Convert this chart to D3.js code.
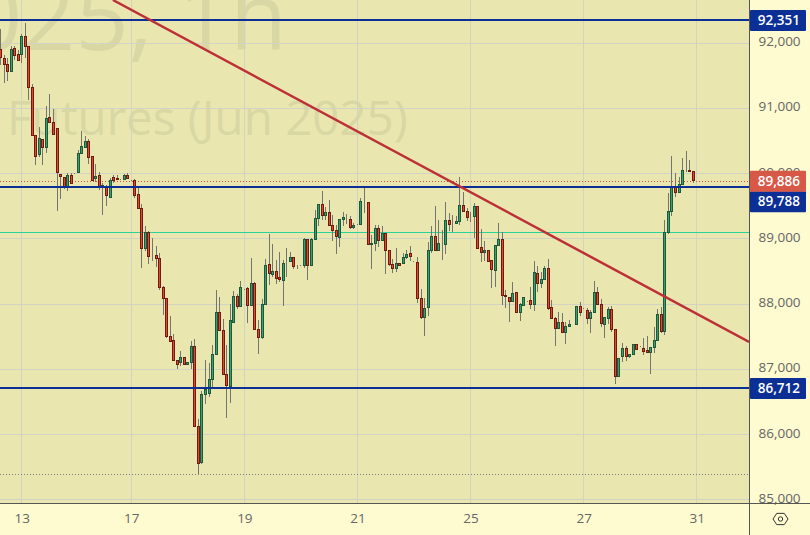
<!DOCTYPE html>
<html><head><meta charset="utf-8">
<script src="https://cdn.jsdelivr.net/npm/d3@7/dist/d3.min.js"></script>
<style>html,body{margin:0;padding:0;background:#fefbd0;overflow:hidden}svg{display:block}</style>
</head><body><svg id="c" width="810" height="535"></svg>
<script>
const opens=[91900,91765,91670,91560,91915,91825,91825,92105,91950,91320,
90575,90285,90525,90395,90860,90785,90690,89985,89940,89795,
89970,89995,90010,90310,90395,90495,90265,89920,89970,89790,
89790,89635,89940,89915,89910,89905,89970,89895,89895,89680,
89465,88855,89100,88745,88745,88700,88255,88085,87505,87445,
87135,87100,87185,87070,87100,87350,86125,85570,86615,86625,
86845,87230,87875,87595,86925,86735,87720,88120,87965,88225,
88240,87980,88315,87610,87485,87995,88600,88450,88500,88410,
88360,88630,88645,88715,88595,88590,88590,88990,88590,88985,
89315,89530,89355,89405,89200,89130,89015,89295,89310,89300,
89170,89220,89215,89560,89555,88915,88925,89160,88970,89085,
88820,88605,88545,88625,88620,88710,88775,88655,88640,88085,
87790,87945,88815,89040,88815,88930,88910,89280,89235,89230,
89260,89510,89420,89345,89345,89495,88865,88795,88820,88660,
88510,88890,88990,88125,88100,88035,88180,87865,87975,88040,
88055,87990,88470,88310,88380,88545,87945,87780,87620,87720,
87560,87660,87690,87690,87965,87930,87905,87775,87865,88180,
87995,87685,87775,87920,87605,86885,87195,87320,87195,87225,
87385,87350,87320,87280,87255,87330,87440,87840,87575,89100,
89420,89795,89705,89830,90040,90050,90025];
const closes=[91780,91670,91560,91900,91805,91730,92105,91940,91315,90580,
90255,90540,90395,90845,90780,90595,90010,89950,89795,89970,
89845,90005,90310,90415,90495,90250,89890,89955,89790,89820,
89660,89895,89890,89910,89910,89970,89920,89890,89665,89460,
88855,89100,88725,88740,88695,88250,88080,87500,87420,87130,
87070,87185,87070,87105,87350,86120,85555,86615,86685,86845,
87230,87875,87590,86925,86750,87750,88120,87965,88255,88225,
87975,88315,87610,87490,87995,88595,88465,88500,88390,88370,
88625,88635,88715,88570,88590,88590,88990,88590,88990,89315,
89530,89355,89405,89200,89125,89030,89300,89320,89305,89175,
89195,89220,89575,89555,88915,88925,89160,88970,89085,88815,
88600,88540,88625,88590,88710,88760,88725,88650,88080,87790,
87935,88825,89040,88815,88920,88930,89280,89215,89235,89270,
89510,89415,89320,89340,89495,88845,88785,88825,88650,88525,
88900,88990,88125,88115,88035,88165,87875,87985,88105,88040,
87990,88485,88310,88380,88545,87935,87775,87620,87720,87560,
87660,87690,87690,87965,87865,87925,87775,87875,88180,87990,
87700,87795,87920,87605,86885,87170,87320,87195,87230,87385,
87300,87350,87270,87255,87335,87445,87840,87575,89100,89420,
89795,89705,89830,90040,90045,90025,89886];
const highs=[92210,91815,91765,91950,91950,91890,92130,92310,91950,91370,
90575,90715,90525,91035,91215,90990,90690,89985,89940,90000,
90010,90010,90360,90650,90575,90525,90265,90145,90020,89860,
89825,89925,89975,89975,89915,89990,90000,89900,89915,89790,
89530,89195,89120,89010,88890,88780,88275,88090,87815,87540,
87140,87280,87185,87105,87435,87465,86235,86665,87140,87095,
87365,88215,88105,87770,87370,88000,88200,88155,88350,88230,
88265,88705,88340,87755,88075,88690,89070,88920,88675,88795,
88675,88855,88790,88715,88600,88595,89005,88990,89005,89440,
89530,89730,89480,89595,89365,89210,89300,89410,89380,89340,
89235,89225,89620,89790,89560,89055,89210,89210,89195,89085,
88825,88690,88855,88625,88775,88827,88890,88660,88715,88225,
88090,88955,89200,89500,89285,89135,89560,89400,89365,89350,
89940,89710,89465,89410,89545,89500,89145,88965,88825,88660,
88900,89240,89105,88215,88105,88335,88180,88010,88105,88045,
88255,88660,88580,88485,88580,88690,88060,87795,87875,87860,
87730,87755,87695,87965,88025,87935,87935,87910,88350,88255,
88075,87795,87950,87970,87605,87170,87400,87355,87230,87385,
87385,87355,87475,87510,87335,87650,87920,87950,89285,89705,
90265,90000,89940,90230,90345,90205,90025];
const lows=[91660,91380,91415,91560,91740,91730,91695,91775,91125,90580,
90130,90255,90130,90310,90780,90595,89430,89610,89755,89735,
89845,89995,90010,90310,90395,90145,89890,89875,89745,89370,
89500,89635,89860,89900,89905,89900,89910,89885,89620,89460,
88555,88815,88615,88660,88570,88215,87830,87480,87420,87130,
87005,87055,87070,87070,87005,86120,85395,85550,86470,86580,
86710,87230,87590,86925,86260,86475,87720,87930,87965,88220,
87715,87980,87610,87240,87470,87995,88290,88420,88305,88340,
87970,88420,88645,88535,88535,88585,88545,88370,88590,88985,
89195,89285,89285,89200,88965,88765,88865,89195,89225,89150,
89145,89215,89215,89400,88915,88540,88810,88870,88970,88465,
88580,88480,88495,88590,88620,88685,88665,88645,88020,87770,
87515,87820,88775,88815,88815,88675,88765,89125,89100,89230,
89210,89415,89275,89255,89010,88845,88645,88665,88645,88245,
88265,88890,87985,87945,87730,88035,87875,87740,87975,88035,
87925,87895,88185,88240,88380,87910,87775,87360,87620,87560,
87385,87660,87685,87690,87815,87920,87690,87560,87865,87990,
87640,87485,87700,87575,86775,86875,87115,87130,87170,87225,
87300,87345,87220,87255,86930,87245,87440,87560,87525,89070,
89350,89645,89705,89830,90025,90025,89860];

const priceTicks=[85000,86000,87000,88000,89000,90000,91000,92000];
const timeTickBars=[6,37,69,101,133,165,197];
const timeTickLabels=["13","17","19","21","25","27","31"];
const blueLevels=[92351,89788,86712];
const greenLevel=89095;
const lastPrice=89886;
const lowestPrice=85395;
const trendBars=[31.8,211.8];
const trendPrices=[92657,87418];
const watermark=["2025, 1h","Futures (Jun 2025)"];

const W=810,H=535,plotR=749,plotB=503;
const x=d3.scaleLinear().domain([0,196]).range([0.5,693.2]);
const y=d3.scaleLinear().domain([92657,84950]).range([0,503]);
const svg=d3.select("#c");
svg.append("rect").attr("width",W).attr("height",H).attr("fill","#fefbd0");
svg.append("rect").attr("width",plotR).attr("height",plotB).attr("fill","#e9e7af");
const defs=svg.append("defs");
defs.append("clipPath").attr("id","p").append("rect").attr("width",plotR).attr("height",plotB);
const g=svg.append("g").attr("clip-path","url(#p)");
const font="'Open Sans', 'Liberation Sans', sans-serif";

// watermark
g.append("text").attr("x",287).attr("y",50).attr("text-anchor","end")
 .attr("font-family",font).attr("font-size",93).attr("fill","#d9d7a4").text(watermark[0]);
g.append("text").attr("x",7).attr("y",135).attr("font-family",font)
 .attr("font-size",47.5).attr("fill","#d9d7a4").text(watermark[1]);

// grid
const snap=v=>Math.round(v)+0.5;
const gridRow=d=>Math.floor(y(d)+.2)+.5;
g.selectAll("line.h").data(priceTicks).join("line").attr("class","h")
 .attr("x1",0).attr("x2",plotR).attr("y1",gridRow).attr("y2",gridRow)
 .attr("stroke","#d3d3c4");
g.selectAll("line.v").data(timeTickBars).join("line").attr("class","v")
 .attr("y1",0).attr("y2",plotB).attr("x1",d=>Math.floor(x(d))+.5).attr("x2",d=>Math.floor(x(d))+.5)
 .attr("stroke","#d3d3c4");

// dotted levels
g.append("line").attr("x1",0).attr("x2",plotR).attr("y1",snap(y(lastPrice))).attr("y2",snap(y(lastPrice)))
 .attr("stroke","#c8503c").attr("stroke-dasharray","1 2");
g.append("line").attr("x1",0).attr("x2",plotR).attr("y1",snap(y(lowestPrice))).attr("y2",snap(y(lowestPrice)))
 .attr("stroke","#808080").attr("stroke-dasharray","1 2");

// green level
g.append("line").attr("x1",0).attr("x2",plotR).attr("y1",Math.floor(y(greenLevel))+.5).attr("y2",Math.floor(y(greenLevel))+.5)
 .attr("stroke","#2bd39a");

// candles
const bars=d3.range(opens.length);
const col=i=>Math.floor(x(i));
g.selectAll("line.w").data(bars).join("line").attr("class","w")
 .attr("x1",i=>col(i)+.5).attr("x2",i=>col(i)+.5)
 .attr("y1",i=>Math.round(y(highs[i]))).attr("y2",i=>Math.round(y(lows[i])))
 .attr("stroke","#75756f");
g.selectAll("rect.b").data(bars).join("rect").attr("class","b")
 .attr("x",i=>col(i)-.5).attr("width",2)
 .attr("y",i=>Math.floor(y(Math.max(opens[i],closes[i])))+.5)
 .attr("height",i=>Math.max(0,Math.floor(y(Math.min(opens[i],closes[i])))-Math.floor(y(Math.max(opens[i],closes[i])))))
 .attr("fill",i=>closes[i]<opens[i]?"#dd4a30":"#3f9c6e")
 .attr("stroke",i=>closes[i]<opens[i]?"#701a12":"#1c5a3c");

// blue levels
g.selectAll("line.l").data(blueLevels).join("line").attr("class","l")
 .attr("x1",0).attr("x2",plotR).attr("y1",d=>Math.round(y(d))).attr("y2",d=>Math.round(y(d)))
 .attr("stroke","#0c2f96").attr("stroke-width",2);

// trend line
g.append("line").attr("x1",x(trendBars[0])).attr("y1",y(trendPrices[0])).attr("x2",x(trendBars[1])).attr("y2",y(trendPrices[1]))
 .attr("stroke","#bd3038").attr("stroke-width",2.5);

// axes
const textFont="'Open Sans', 'Liberation Sans', sans-serif";
const yAxis=svg.append("g").attr("transform",`translate(${plotR+.5},0)`)
 .call(d3.axisRight(y).tickValues(priceTicks).tickFormat(d3.format(",")).tickSize(0).tickPadding(9));
yAxis.select(".domain").remove();
yAxis.selectAll("text").attr("font-family",textFont).attr("font-size",13.5).attr("fill","#666").attr("dy",".2em");
const xAxis=svg.append("g").attr("transform",`translate(0,${plotB})`)
 .call(d3.axisBottom(x).tickValues(timeTickBars).tickFormat((d,i)=>timeTickLabels[i]).tickSize(0).tickPadding(10));
xAxis.select(".domain").remove();
xAxis.selectAll("text").attr("font-family",textFont).attr("font-size",13.5).attr("fill","#666");

svg.append("line").attr("x1",0).attr("x2",W).attr("y1",plotB+.5).attr("y2",plotB+.5).attr("stroke","#555");
svg.append("line").attr("x1",plotR+.5).attr("x2",plotR+.5).attr("y1",0).attr("y2",H).attr("stroke","#555");

// price tags
const tags=blueLevels.map(v=>({v,c:"#0c2f96"})).concat([{v:lastPrice,c:"#d85847"}]);
const fmt=d3.format(",");
const tg=svg.selectAll("g.t").data(tags).join("g").attr("class","t");
const tagY=d=>{const p=y(d.v);return d.v===lastPrice?p-10:(d.v===89788?p+4:p-10);};
tg.append("rect").attr("x",plotR+1).attr("width",56).attr("height",21).attr("y",tagY).attr("rx",1).attr("fill",d=>d.c);
tg.append("text").attr("x",800).attr("text-anchor","end").attr("y",d=>tagY(d)+15)
 .attr("font-family",textFont).attr("font-size",13.5).attr("font-weight",600).attr("fill","#fff")
 .text(d=>fmt(d.v));

// settings icon
const ic=svg.append("g").attr("transform","translate(780.5,519)").attr("fill","none").attr("stroke","#333").attr("stroke-width",1);
const hex=d3.range(6).map(k=>[7.5*Math.cos(k*Math.PI/3),6.5*Math.sin(k*Math.PI/3)]);
ic.append("path").attr("d",d3.line().curve(d3.curveLinearClosed)(hex));
ic.append("circle").attr("r",2.2);
</script></body></html>
